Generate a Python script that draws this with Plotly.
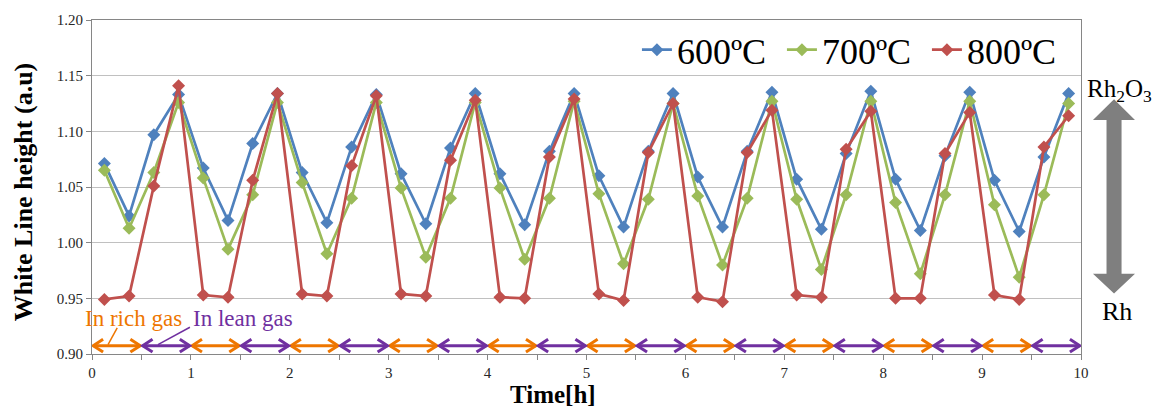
import plotly.graph_objects as go

# Sampling times (h): four XAS scans per hour
time_h = [0.125, 0.375, 0.625, 0.875, 1.125, 1.375, 1.625, 1.875,
          2.125, 2.375, 2.625, 2.875, 3.125, 3.375, 3.625, 3.875,
          4.125, 4.375, 4.625, 4.875, 5.125, 5.375, 5.625, 5.875,
          6.125, 6.375, 6.625, 6.875, 7.125, 7.375, 7.625, 7.875,
          8.125, 8.375, 8.625, 8.875, 9.125, 9.375, 9.625, 9.875]

wl_600 = [1.071, 1.024, 1.097, 1.133, 1.067, 1.020, 1.089, 1.134,
          1.063, 1.018, 1.086, 1.133, 1.062, 1.017, 1.085, 1.134,
          1.062, 1.016, 1.082, 1.134, 1.060, 1.014, 1.082, 1.134,
          1.059, 1.014, 1.082, 1.135, 1.057, 1.012, 1.080, 1.136,
          1.057, 1.011, 1.078, 1.135, 1.056, 1.010, 1.077, 1.134]

wl_700 = [1.065, 1.013, 1.063, 1.126, 1.058, 0.994, 1.043, 1.126,
          1.054, 0.990, 1.040, 1.126, 1.049, 0.987, 1.040, 1.126,
          1.049, 0.985, 1.040, 1.127, 1.044, 0.981, 1.039, 1.125,
          1.042, 0.980, 1.040, 1.127, 1.039, 0.976, 1.043, 1.127,
          1.036, 0.972, 1.043, 1.127, 1.034, 0.969, 1.043, 1.125]

wl_800 = [0.949, 0.952, 1.051, 1.141, 0.953, 0.951, 1.056, 1.134,
          0.954, 0.952, 1.069, 1.132, 0.954, 0.952, 1.074, 1.128,
          0.951, 0.950, 1.077, 1.129, 0.954, 0.948, 1.081, 1.125,
          0.951, 0.947, 1.081, 1.119, 0.953, 0.951, 1.084, 1.118,
          0.950, 0.950, 1.080, 1.117, 0.953, 0.949, 1.086, 1.114]

series_names = ["600ºC", "700ºC", "800ºC"]
series_colors = ["#4F81BD", "#9BBB59", "#C0504D"]

# Gas atmosphere switching: half-hour periods, alternating rich / lean
phase_start = [0.0, 0.5, 1.0, 1.5, 2.0, 2.5, 3.0, 3.5, 4.0, 4.5,
               5.0, 5.5, 6.0, 6.5, 7.0, 7.5, 8.0, 8.5, 9.0, 9.5]
phase_end = [0.5, 1.0, 1.5, 2.0, 2.5, 3.0, 3.5, 4.0, 4.5, 5.0,
             5.5, 6.0, 6.5, 7.0, 7.5, 8.0, 8.5, 9.0, 9.5, 10.0]
phase_gas = ["rich", "lean"] * 10

x_ticks = [0, 1, 2, 3, 4, 5, 6, 7, 8, 9, 10]
y_ticks = [0.90, 0.95, 1.00, 1.05, 1.10, 1.15, 1.20]

RICH = "#EE7600"
LEAN = "#7030A0"
SERIF = "Liberation Serif"
AXIS_GREY = "#868686"

fig = go.Figure()

# Double-headed phase arrows along the bottom of the plot
ARROW_Y = 0.9075
HEAD_X = 0.10
HEAD_Y = 0.0058
GAP = 0.012


def phase_arrows(gas):
    xs, ys = [], []
    for a, b, g in zip(phase_start, phase_end, phase_gas):
        if g != gas:
            continue
        l, r = a + GAP, b - GAP
        xs += [l, r, None,
               l + HEAD_X, l, l + HEAD_X, None,
               r - HEAD_X, r, r - HEAD_X, None]
        ys += [ARROW_Y, ARROW_Y, None,
               ARROW_Y + HEAD_Y, ARROW_Y, ARROW_Y - HEAD_Y, None,
               ARROW_Y + HEAD_Y, ARROW_Y, ARROW_Y - HEAD_Y, None]
    return xs, ys


for gas, col in (("rich", RICH), ("lean", LEAN)):
    xs, ys = phase_arrows(gas)
    fig.add_trace(go.Scatter(x=xs, y=ys, mode="lines",
                             line=dict(color=col, width=3),
                             hoverinfo="skip", showlegend=False))

for name, vals, col in zip(series_names, [wl_600, wl_700, wl_800], series_colors):
    fig.add_trace(go.Scatter(
        x=time_h, y=vals, name=name, mode="lines+markers",
        line=dict(color=col, width=2.7),
        marker=dict(symbol="diamond", size=10, color=col),
    ))

# Leader lines from the gas labels to the arrows
fig.add_shape(type="line", xref="x", yref="y", x0=0.162, y0=0.9085, x1=0.255, y1=0.9235,
              line=dict(color=RICH, width=1.5))
fig.add_shape(type="line", xref="x", yref="y", x0=0.667, y0=0.9085, x1=0.99, y1=0.924,
              line=dict(color=LEAN, width=1.5))

# Grey double arrow between the Rh2O3 and Rh labels
fig.add_shape(
    type="path", xref="paper", yref="paper",
    path=("M 1.0334,0.7626 L 1.0546,0.7003 L 1.0410,0.7003 L 1.0410,0.2404 "
          "L 1.0546,0.2404 L 1.0334,0.1810 L 1.0121,0.2404 L 1.0258,0.2404 "
          "L 1.0258,0.7003 L 1.0121,0.7003 Z"),
    fillcolor="#7F7F7F", line=dict(width=0),
)

annotations = [
    dict(text="In rich gas", x=-0.0091, y=0.9322, xref="paper", yref="y",
         xanchor="left", yanchor="middle", showarrow=False,
         font=dict(family=SERIF, size=23, color=RICH)),
    dict(text="In lean gas", x=1.0, y=0.932, xref="x", yref="y",
         xanchor="left", yanchor="middle", showarrow=False,
         font=dict(family=SERIF, size=23, color=LEAN)),
    dict(text="Rh<sub>2</sub>O<sub>3</sub>", x=1.039, y=0.789, xref="paper", yref="paper",
         xanchor="center", yanchor="middle", showarrow=False,
         font=dict(family=SERIF, size=25, color="black")),
    dict(text="Rh", x=1.0364, y=0.128, xref="paper", yref="paper",
         xanchor="center", yanchor="middle", showarrow=False,
         font=dict(family=SERIF, size=26, color="black")),
    dict(text="<b>White Line height (a.u)</b>", x=-0.0698, y=0.487, xref="paper", yref="paper",
         xanchor="center", yanchor="middle", textangle=-90, showarrow=False,
         font=dict(family=SERIF, size=26, color="black")),
    dict(text="<b>Time[h]</b>", x=0.466, y=-0.122, xref="paper", yref="paper",
         xanchor="center", yanchor="middle", showarrow=False,
         font=dict(family=SERIF, size=25, color="black")),
]

fig.update_layout(
    width=1158, height=410,
    margin=dict(l=92, r=77, t=17, b=56),
    paper_bgcolor="white", plot_bgcolor="white",
    font=dict(family=SERIF, color="#262626"),
    showlegend=True,
    legend=dict(orientation="h", x=0.551, y=0.911, xanchor="left", yanchor="middle",
                font=dict(family=SERIF, size=36, color="black"),
                bgcolor="rgba(0,0,0,0)", entrywidth=100, entrywidthmode="pixels",
                itemclick=False),
    annotations=annotations,
    xaxis=dict(range=[0, 10], tickvals=x_ticks,
               showgrid=False, zeroline=False,
               showline=True, linecolor=AXIS_GREY, linewidth=1, mirror=True,
               ticks="outside", ticklen=5, tickcolor=AXIS_GREY,
               minor=dict(dtick=0.5, ticks="outside", ticklen=5, tickcolor=AXIS_GREY,
                          showgrid=False),
               tickfont=dict(family=SERIF, size=15, color="#262626")),
    yaxis=dict(range=[0.90, 1.20], tickvals=y_ticks, tickformat=".2f",
               showgrid=True, gridcolor="#C0C0C0", gridwidth=1, zeroline=False,
               showline=True, linecolor=AXIS_GREY, linewidth=1, mirror=True,
               ticks="outside", ticklen=5, tickcolor=AXIS_GREY,
               tickfont=dict(family=SERIF, size=15, color="#262626")),
)

fig.write_html("out.html")
